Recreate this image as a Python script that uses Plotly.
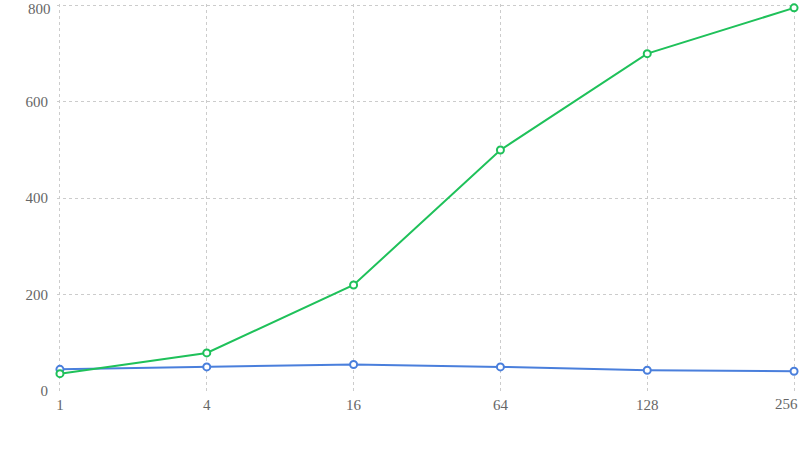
import plotly.graph_objects as go

categories = ["1", "4", "16", "64", "128", "256"]
green_values = [36, 79, 220, 500, 700, 795]
blue_values = [45, 50, 55, 50, 43, 41]
y_ticks = [0, 200, 400, 600, 800]

FONT = "'Liberation Serif', 'Times New Roman', Times, serif"
TICK_FONT = dict(family=FONT, size=15, color="#666666")

fig = go.Figure()
fig.add_trace(go.Scatter(
    x=categories, y=blue_values, mode="lines+markers",
    line=dict(color="#4a7fdc", width=2),
    marker=dict(symbol="circle", size=7, color="white", line=dict(color="#4a7fdc", width=2)),
    cliponaxis=False, showlegend=False))
fig.add_trace(go.Scatter(
    x=categories, y=green_values, mode="lines+markers",
    line=dict(color="#1fc15a", width=2),
    marker=dict(symbol="circle", size=7, color="white", line=dict(color="#1fc15a", width=2)),
    cliponaxis=False, showlegend=False))

# last x label and top y label are nudged inside the page, as in the reference
x_ticktext = categories[:-1] + [""]
y_ticktext = [str(v) for v in y_ticks[:-1]] + [""]
fig.add_annotation(
    x=len(categories) - 1, y=0, xref="x", yref="y", text=categories[-1],
    showarrow=False, xanchor="right", yanchor="top", xshift=6, yshift=-3,
    font=TICK_FONT)
fig.add_annotation(
    x=0, y=y_ticks[-1], xref="paper", yref="y", text=str(y_ticks[-1]),
    showarrow=False, xanchor="right", yanchor="middle", xshift=-4, yshift=-4,
    font=TICK_FONT)

fig.update_layout(
    width=799, height=450,
    margin=dict(l=57, r=2, t=4, b=59, autoexpand=False),
    plot_bgcolor="white", paper_bgcolor="white",
    font=TICK_FONT,
)
fig.update_xaxes(
    type="category", range=[-0.02, 5.02], automargin=False,
    tickvals=categories, ticktext=x_ticktext, ticklabeloverflow="allow",
    showgrid=True, gridcolor="#cccccc", griddash="3px,3px", gridwidth=1,
    zeroline=False, showline=False, ticks="", ticklabelstandoff=3,
)
fig.update_yaxes(
    range=[0, 803], tickvals=y_ticks, ticktext=y_ticktext,
    automargin=False, ticklabeloverflow="allow",
    showgrid=True, gridcolor="#cccccc", griddash="3px,3px", gridwidth=1,
    zeroline=False, showline=False, ticks="", ticklabelstandoff=8,
)

fig.write_html("out.html", config={"displayModeBar": False},
               post_script="document.body.style.margin='0';")
